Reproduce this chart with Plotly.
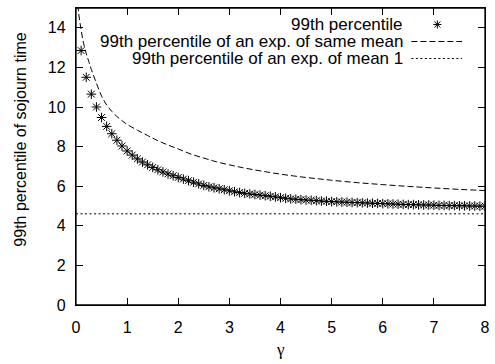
import plotly.graph_objects as go

# --- data ---
gamma = [round(0.1 * i, 1) for i in range(1, 81)]
p99 = [12.85, 11.50, 10.65, 10.00, 9.47, 9.02, 8.65, 8.32, 8.03, 7.78,
       7.57, 7.38, 7.22, 7.08, 6.95, 6.83, 6.72, 6.62, 6.53, 6.44,
       6.36, 6.28, 6.20, 6.12, 6.04, 5.97, 5.92, 5.87, 5.82, 5.77,
       5.72, 5.68, 5.64, 5.61, 5.58, 5.55, 5.52, 5.49, 5.46, 5.42,
       5.39, 5.36, 5.34, 5.32, 5.30, 5.29, 5.27, 5.25, 5.24, 5.22,
       5.21, 5.20, 5.19, 5.18, 5.17, 5.16, 5.15, 5.14, 5.13, 5.12,
       5.11, 5.10, 5.09, 5.08, 5.07, 5.07, 5.06, 5.05, 5.05, 5.04,
       5.03, 5.03, 5.02, 5.02, 5.01, 5.01, 5.00, 5.00, 4.99, 4.99]

gamma_exp = [0.03, 0.05, 0.1, 0.15, 0.2, 0.25, 0.3, 0.4, 0.5, 0.6, 0.7, 0.8, 0.9,
             1.0, 1.2, 1.4, 1.6, 1.8, 2.0, 2.25, 2.5, 2.75, 3.0, 3.25, 3.5,
             3.75, 4.0, 4.25, 4.5, 4.75, 5.0, 5.5, 6.0, 6.5, 7.0, 7.5, 8.0]
p99_exp_same_mean = [15.6, 14.8, 13.9, 13.2, 12.7, 12.3, 11.9, 11.2, 10.55, 10.1,
                     9.78, 9.52, 9.31, 9.12, 8.83, 8.56, 8.30, 8.08, 7.88, 7.62,
                     7.42, 7.23, 7.08, 6.94, 6.82, 6.71, 6.61, 6.52, 6.44, 6.37,
                     6.30, 6.18, 6.08, 5.99, 5.91, 5.84, 5.78]

gamma_mean1 = [0, 8]
p99_exp_mean1 = [4.605, 4.605]

legend_labels = ["99th percentile",
                 "99th percentile of an exp. of same mean",
                 "99th percentile of an exp. of mean 1"]

x_ticks = [0, 1, 2, 3, 4, 5, 6, 7, 8]
y_ticks = [0, 2, 4, 6, 8, 10, 12, 14]

FONT = "Liberation Sans, Arial, sans-serif"

fig = go.Figure()
fig.add_trace(go.Scatter(x=gamma, y=p99, mode="markers",
                         marker=dict(symbol="asterisk-open", size=8, color="black",
                                     line=dict(color="black", width=1)),
                         showlegend=False))
fig.add_trace(go.Scatter(x=gamma_exp, y=p99_exp_same_mean, mode="lines",
                         line=dict(color="black", width=1, dash="6px,3px", shape="spline"),
                         showlegend=False))
fig.add_trace(go.Scatter(x=gamma_mean1, y=p99_exp_mean1, mode="lines",
                         line=dict(color="black", width=1, dash="2px,2.5px"),
                         showlegend=False))

axis_common = dict(showline=True, linecolor="black", linewidth=1.3, mirror="allticks",
                   ticks="inside", ticklen=7, tickwidth=1.2, tickcolor="black",
                   showgrid=False, zeroline=False,
                   tickfont=dict(family=FONT, size=16, color="black"))

fig.update_xaxes(range=[0, 8], tickvals=x_ticks, ticktext=[str(v) for v in x_ticks],
                 ticklabelstandoff=8, **axis_common)
fig.update_yaxes(range=[0, 15], tickvals=y_ticks, ticktext=[str(v) for v in y_ticks],
                 ticklabelstandoff=6, **axis_common)

# plot frame
fig.add_shape(type="rect", xref="paper", yref="paper", x0=0, x1=1, y0=0, y1=1,
              line=dict(color="black", width=1.3), layer="above")

# axis titles
fig.add_annotation(text="99th percentile of sojourn time", textangle=-90,
                   xref="paper", yref="paper", x=-0.135, y=0.556,
                   xanchor="center", yanchor="middle", showarrow=False,
                   font=dict(family=FONT, size=16, color="black"))
fig.add_annotation(text="γ", xref="paper", yref="paper", x=0.5, y=-0.15,
                   xanchor="center", yanchor="middle", showarrow=False,
                   font=dict(family="Liberation Serif, serif", size=17, color="black"))

# key (gnuplot style: text right-aligned, sample on the right)
rows_y = [0.9444, 0.8872, 0.830]
for lab, yy in zip(legend_labels, rows_y):
    fig.add_annotation(text=lab, xref="paper", yref="paper", x=0.804, y=yy,
                       xanchor="right", yanchor="middle", showarrow=False,
                       font=dict(family=FONT, size=17, color="black"))
fig.add_shape(type="path", xref="paper", yref="paper", xsizemode="pixel", ysizemode="pixel",
              xanchor=0.8835, yanchor=rows_y[0],
              path="M-4,0 L4,0 M0,-4 L0,4 M-3,-3 L3,3 M-3,3 L3,-3",
              line=dict(color="black", width=1))
fig.add_shape(type="line", xref="paper", yref="paper", x0=0.820, x1=0.944,
              y0=rows_y[1], y1=rows_y[1], line=dict(color="black", width=1, dash="6px,3px"))
fig.add_shape(type="line", xref="paper", yref="paper", x0=0.820, x1=0.944,
              y0=rows_y[2], y1=rows_y[2], line=dict(color="black", width=1, dash="2px,2.5px"))

fig.update_layout(width=495, height=364, margin=dict(l=76, r=5, t=8, b=59),
                  plot_bgcolor="white", paper_bgcolor="white", showlegend=False)

fig.write_html("out.html", config={"displayModeBar": False},
               post_script="document.documentElement.style.overflow='hidden';document.body.style.margin='0';document.body.style.padding='0';")
